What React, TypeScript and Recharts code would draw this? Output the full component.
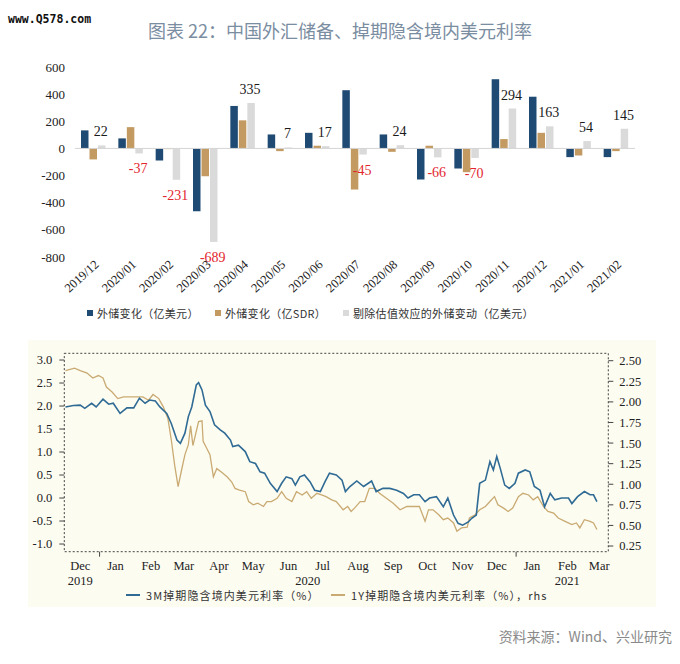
import React from "react";
import {
  BarChart,
  Bar,
  XAxis,
  YAxis,
  Legend,
  ReferenceLine,
  ReferenceArea,
  LabelList,
  LineChart,
  Line,
} from "recharts";

// ---- top chart: monthly reserve changes ----
const months = [
  "2019/12", "2020/01", "2020/02", "2020/03", "2020/04", "2020/05", "2020/06", "2020/07",
  "2020/08", "2020/09", "2020/10", "2020/11", "2020/12", "2021/01", "2021/02",
];
const reserveUsd = [133, 74, -89, -463, 313, 103, 115, 429, 103, -229, -148, 510, 381, -64, -64];
const reserveSdr = [-81, 157, -5, -205, 207, -20, 20, -303, -25, 20, -175, 69, 115, -52, -20];
const reserveExValuation = [22, -37, -231, -689, 335, 7, 17, -45, 24, -66, -70, 294, 163, 54, 145];
const barTicks = [-800, -600, -400, -200, 0, 200, 400, 600];
const barNames = ["外储变化（亿美元）", "外储变化（亿SDR）", "剔除估值效应的外储变动（亿美元）"];

// ---- bottom chart: swap implied onshore USD rates ----
const rate3mDates = [
  "2019-12-02", "2019-12-09", "2019-12-15", "2019-12-19", "2019-12-25", "2019-12-29", "2020-01-04", "2020-01-09",
  "2020-01-13", "2020-01-19", "2020-01-25", "2020-01-31", "2020-02-05", "2020-02-10", "2020-02-14", "2020-02-19",
  "2020-02-23", "2020-02-29", "2020-03-04", "2020-03-09", "2020-03-12", "2020-03-16", "2020-03-19", "2020-03-22",
  "2020-03-26", "2020-03-28", "2020-03-31", "2020-04-03", "2020-04-07", "2020-04-11", "2020-04-16", "2020-04-20",
  "2020-04-25", "2020-04-27", "2020-05-02", "2020-05-08", "2020-05-12", "2020-05-17", "2020-05-21", "2020-05-25",
  "2020-05-30", "2020-06-05", "2020-06-09", "2020-06-13", "2020-06-18", "2020-06-21", "2020-06-25", "2020-06-29",
  "2020-07-04", "2020-07-08", "2020-07-13", "2020-07-17", "2020-07-21", "2020-07-27", "2020-08-01", "2020-08-04",
  "2020-08-08", "2020-08-14", "2020-08-20", "2020-08-27", "2020-08-31", "2020-09-06", "2020-09-12", "2020-09-18",
  "2020-09-24", "2020-09-28", "2020-10-03", "2020-10-08", "2020-10-13", "2020-10-17", "2020-10-23", "2020-10-29",
  "2020-11-02", "2020-11-07", "2020-11-11", "2020-11-15", "2020-11-20", "2020-11-23", "2020-11-27", "2020-11-30",
  "2020-12-05", "2020-12-09", "2020-12-12", "2020-12-15", "2020-12-18", "2020-12-22", "2020-12-26", "2020-12-31",
  "2021-01-03", "2021-01-09", "2021-01-13", "2021-01-17", "2021-01-22", "2021-01-26", "2021-01-31", "2021-02-04",
  "2021-02-10", "2021-02-16", "2021-02-19", "2021-02-24", "2021-03-02", "2021-03-07", "2021-03-10", "2021-03-13",
];
const rate3m = [
  1.98, 2.01, 2.02, 1.95, 2.06, 1.98, 2.15, 2.04,
  2.06, 1.84, 1.96, 1.96, 2.17, 2.06, 2.13, 2.11,
  1.98, 1.84, 1.62, 1.26, 1.19, 1.41, 1.77, 1.98,
  2.46, 2.51, 2.35, 2.02, 1.88, 1.59, 1.48, 1.41,
  1.26, 1.12, 1.15, 1.01, 0.79, 0.75, 0.57, 0.54,
  0.32, 0.14, 0.32, 0.46, 0.42, 0.28, 0.46, 0.5,
  0.35, 0.17, 0.14, 0.35, 0.54, 0.5, 0.39, 0.14,
  0.25, 0.37, 0.25, 0.37, 0.14, 0.21, 0.21, 0.17,
  0.1, 0.0, 0.07, 0.07, -0.08, 0.0, 0.03, -0.19,
  0.0, -0.37, -0.55, -0.59, -0.52, -0.44, -0.37, 0.32,
  0.39, 0.79, 0.61, 0.9, 0.65, 0.28, 0.21, 0.32,
  0.54, 0.61, 0.57, 0.25, 0.17, -0.19, 0.1, -0.04,
  0.0, 0.0, -0.12, 0.03, 0.14, 0.07, 0.07, -0.08,
];
const rate1yDates = [
  "2019-12-02", "2019-12-10", "2019-12-15", "2019-12-21", "2019-12-26", "2019-12-31", "2020-01-04", "2020-01-07",
  "2020-01-12", "2020-01-17", "2020-01-22", "2020-01-28", "2020-02-03", "2020-02-08", "2020-02-13", "2020-02-17",
  "2020-02-22", "2020-02-26", "2020-03-01", "2020-03-04", "2020-03-07", "2020-03-10", "2020-03-13", "2020-03-16",
  "2020-03-19", "2020-03-21", "2020-03-23", "2020-03-28", "2020-03-31", "2020-04-01", "2020-04-04", "2020-04-07",
  "2020-04-10", "2020-04-13", "2020-04-17", "2020-04-22", "2020-04-26", "2020-04-29", "2020-05-03", "2020-05-08",
  "2020-05-11", "2020-05-15", "2020-05-19", "2020-05-24", "2020-05-27", "2020-05-31", "2020-06-05", "2020-06-09",
  "2020-06-13", "2020-06-18", "2020-06-22", "2020-06-27", "2020-07-01", "2020-07-05", "2020-07-10", "2020-07-14",
  "2020-07-18", "2020-07-23", "2020-07-27", "2020-08-02", "2020-08-06", "2020-08-09", "2020-08-12", "2020-08-17",
  "2020-08-21", "2020-08-25", "2020-08-30", "2020-09-03", "2020-09-09", "2020-09-15", "2020-09-21", "2020-09-27",
  "2020-10-03", "2020-10-08", "2020-10-13", "2020-10-16", "2020-10-20", "2020-10-25", "2020-10-29", "2020-11-02",
  "2020-11-07", "2020-11-10", "2020-11-14", "2020-11-19", "2020-11-21", "2020-11-26", "2020-11-30", "2020-12-05",
  "2020-12-09", "2020-12-13", "2020-12-16", "2020-12-21", "2020-12-25", "2020-12-29", "2021-01-03", "2021-01-07",
  "2021-01-12", "2021-01-16", "2021-01-20", "2021-01-25", "2021-01-29", "2021-02-03", "2021-02-07", "2021-02-13",
  "2021-02-19", "2021-02-23", "2021-02-26", "2021-03-02", "2021-03-07", "2021-03-10", "2021-03-13",
];
const rate1y = [
  2.38, 2.41, 2.38, 2.35, 2.29, 2.32, 2.29, 2.18,
  2.12, 2.04, 2.06, 2.06, 2.06, 2.06, 2.02, 2.09,
  2.04, 1.94, 1.8, 1.54, 1.23, 0.97, 1.17, 1.36,
  1.48, 1.71, 1.47, 1.76, 1.77, 1.52, 1.44, 1.36,
  1.09, 1.19, 1.15, 1.09, 1.03, 0.95, 0.93, 0.91,
  0.79, 0.75, 0.77, 0.73, 0.79, 0.79, 0.83, 0.91,
  0.83, 0.79, 0.91, 0.87, 0.91, 0.83, 0.89, 0.87,
  0.85, 0.81, 0.79, 0.69, 0.73, 0.67, 0.71, 0.79,
  0.79, 0.95, 0.95, 0.89, 0.83, 0.77, 0.69, 0.73,
  0.73, 0.73, 0.55, 0.69, 0.69, 0.63, 0.57, 0.59,
  0.53, 0.43, 0.47, 0.48, 0.59, 0.63, 0.69, 0.73,
  0.79, 0.85, 0.75, 0.71, 0.67, 0.71, 0.85, 0.89,
  0.87, 0.81, 0.85, 0.73, 0.67, 0.65, 0.59, 0.55,
  0.51, 0.53, 0.47, 0.57, 0.55, 0.53, 0.45,
];
const rateNames = ["3M掉期隐含境内美元利率（%）", "1Y掉期隐含境内美元利率（%），rhs"];
const leftTicks = [-1, -0.5, 0, 0.5, 1, 1.5, 2, 2.5, 3];
const rightTicks = [0.25, 0.5, 0.75, 1, 1.25, 1.5, 1.75, 2, 2.25, 2.5];
const monthTickDates = [
  "2019-12-15", "2020-01-15", "2020-02-15", "2020-03-15", "2020-04-15", "2020-05-15", "2020-06-15", "2020-07-15",
  "2020-08-15", "2020-09-15", "2020-10-15", "2020-11-15", "2020-12-15", "2021-01-15", "2021-02-15", "2021-03-15",
];
const monthTickLabels = [
  "Dec", "Jan", "Feb", "Mar", "Apr", "May", "Jun", "Jul", "Aug", "Sep", "Oct", "Nov", "Dec", "Jan", "Feb", "Mar",
];
const yearTickDates = ["2019-12-15", "2020-07-02", "2021-02-15"];
const yearTickLabels = ["2019", "2020", "2021"];
const yearStartDates = ["2020-01-01", "2021-01-01"];

const toTs = (d: string) => Date.parse(d + "T00:00:00Z");

const barData = months.map((m, i) => ({
  month: m,
  usd: reserveUsd[i],
  sdr: reserveSdr[i],
  exval: reserveExValuation[i],
}));
const rate3mSeries = rate3mDates.map((d, i) => ({ t: toTs(d), v: rate3m[i] }));
const rate1ySeries = rate1yDates.map((d, i) => ({ t: toTs(d), v: rate1y[i] }));

const xMin = toTs("2019-12-01");
const xMax = toTs("2021-03-23");
const leftDomain: [number, number] = [-1.167, 3.146];
const rightDomain: [number, number] = [0.181, 2.59];

const monthByTs = new Map(monthTickDates.map((d, i) => [toTs(d), monthTickLabels[i]]));
const yearByTs = new Map(yearTickDates.map((d, i) => [toTs(d), yearTickLabels[i]]));
const yearStarts = new Set(yearStartDates.map(toTs));
const dateTicks = Array.from(
  new Set([...monthTickDates, ...yearTickDates, ...yearStartDates].map(toTs))
).sort((a, b) => a - b);

const SERIF = "'Liberation Serif', 'Times New Roman', serif";
const CJK = "'Noto Sans CJK SC', 'Noto Sans', sans-serif";

// keep legend entries in series order (Recharts sorts them by name otherwise)
const inOrder = (payload: any[], names: string[]) =>
  [...payload].sort((a, b) => names.indexOf(a.value) - names.indexOf(b.value));

const renderExValLabel = (props: any) => {
  const { x, y, width, height, value } = props;
  const top = Math.min(y, y + height);
  const bottom = Math.max(y, y + height);
  const neg = value < 0;
  return (
    <text
      x={x + width / 2 - 1}
      y={neg ? bottom + 20 : top - 9}
      textAnchor="middle"
      fontSize={14}
      fontFamily={SERIF}
      fill={neg ? "#e3262e" : "#1a1a1a"}
    >
      {value}
    </text>
  );
};

const BarLegend = (props: any) => {
  const items = inOrder(props.payload || [], barNames);
  return (
    <div style={{ display: "flex", alignItems: "center", height: 16, paddingLeft: 87, fontFamily: CJK, fontSize: 11, color: "#333", whiteSpace: "nowrap" }}>
      {items.map((entry: any, i: number) => (
        <div key={i} style={{ display: "flex", alignItems: "center", width: i < 2 ? 128 : "auto", flexShrink: 0, letterSpacing: 0.3 }}>
          <span style={{ display: "inline-block", width: 6, height: 6, background: entry.color, marginRight: 4 }} />
          <span>{entry.value}</span>
        </div>
      ))}
    </div>
  );
};

const LineLegend = (props: any) => {
  const items = inOrder(props.payload || [], rateNames);
  return (
    <div style={{ display: "flex", alignItems: "center", height: 14, paddingLeft: 126, fontFamily: CJK, fontSize: 11, color: "#333", whiteSpace: "nowrap" }}>
      {items.map((entry: any, i: number) => (
        <div key={i} style={{ display: "flex", alignItems: "center", width: i === 0 ? 205 : "auto", flexShrink: 0, letterSpacing: 1.1 }}>
          <span style={{ display: "inline-block", width: 14, height: 2, background: entry.color, marginRight: 6 }} />
          <span>{entry.value}</span>
        </div>
      ))}
    </div>
  );
};

const DateTick = (props: any) => {
  const { x, y, payload } = props;
  const v = payload.value;
  const month = monthByTs.get(v);
  const year = yearByTs.get(v);
  return (
    <g>
      {yearStarts.has(v) && <line x1={x} x2={x} y1={y} y2={y + 5} stroke="#444" />}
      {month && (
        <text x={x} y={y + 18} textAnchor="middle" fontSize={12.5} fontFamily={SERIF} fill="#222">
          {month}
        </text>
      )}
      {year && (
        <text x={x} y={y + 33.5} textAnchor="middle" fontSize={12.5} fontFamily={SERIF} fill="#222">
          {year}
        </text>
      )}
    </g>
  );
};

export default function App() {
  return (
    <div style={{ position: "absolute", left: 0, top: 0, width: 680, height: 664, background: "#fff", overflow: "hidden" }}>
      <div style={{ position: "absolute", left: 8, top: 12, fontFamily: "'DejaVu Sans Mono', monospace", fontWeight: "bold", fontSize: 11.5, color: "#111" }}>
        www.Q578.com
      </div>
      <div style={{ position: "absolute", left: 0, top: 19, width: 680, textAlign: "center", fontFamily: CJK, fontSize: 18, lineHeight: "22px", color: "#7b8da1" }}>
        图表 22：中国外汇储备、掉期隐含境内美元利率
      </div>

      <div style={{ position: "absolute", left: 0, top: 0 }}>
        <BarChart
          width={680}
          height={330}
          data={barData}
          margin={{ top: 67, right: 45, bottom: 9, left: 0 }}
          barSize={7.5}
          barGap={1}
        >
          <XAxis
            dataKey="month"
            interval={0}
            angle={-42}
            textAnchor="end"
            tickLine={false}
            axisLine={false}
            tickSize={0}
            tickMargin={2}
            height={48}
            tick={{ fontSize: 12.5, fontFamily: SERIF, fill: "#222" }}
          />
          <YAxis
            domain={[-800, 600]}
            ticks={barTicks}
            width={75}
            axisLine={false}
            tickLine={false}
            tickSize={0}
            tickMargin={10}
            tick={{ fontSize: 13, fontFamily: SERIF, fill: "#222" }}
          />
          <ReferenceLine y={0} stroke="#d4d4d4" />
          <Legend verticalAlign="bottom" content={<BarLegend />} />
          <Bar dataKey="usd" name={barNames[0]} fill="#1f4a74" isAnimationActive={false} />
          <Bar dataKey="sdr" name={barNames[1]} fill="#c39b62" isAnimationActive={false} />
          <Bar dataKey="exval" name={barNames[2]} fill="#dadada" isAnimationActive={false}>
            <LabelList dataKey="exval" content={renderExValLabel} />
          </Bar>
        </BarChart>
      </div>

      <div style={{ position: "absolute", left: 28, top: 340, width: 628, height: 267, background: "#fdfcf1" }} />
      <div style={{ position: "absolute", left: 0, top: 340 }}>
        <LineChart width={680} height={267} margin={{ top: 13.3, right: 0, bottom: 5, left: 0 }}>
          <XAxis
            type="number"
            dataKey="t"
            domain={[xMin, xMax]}
            ticks={dateTicks}
            interval={0}
            tick={<DateTick />}
            tickLine={false}
            axisLine={false}
            tickSize={0}
            tickMargin={0}
            height={36.3}
            allowDataOverflow
          />
          <YAxis
            yAxisId="left"
            domain={leftDomain}
            ticks={leftTicks}
            allowDataOverflow
            width={64.3}
            axisLine={false}
            tickLine={{ stroke: "#444" }}
            tickSize={5}
            tickMargin={7}
            tickFormatter={(v: number) => v.toFixed(1)}
            tick={{ fontSize: 12.5, fontFamily: SERIF, fill: "#222" }}
          />
          <YAxis
            yAxisId="right"
            orientation="right"
            domain={rightDomain}
            ticks={rightTicks}
            allowDataOverflow
            width={71.7}
            axisLine={false}
            tickLine={{ stroke: "#444" }}
            tickSize={5}
            tickMargin={6}
            tickFormatter={(v: number) => v.toFixed(2)}
            tick={{ fontSize: 12.5, fontFamily: SERIF, fill: "#222" }}
          />
          <ReferenceArea
            yAxisId="left"
            x1={xMin}
            x2={xMax}
            y1={leftDomain[0]}
            y2={leftDomain[1]}
            fill="none"
            stroke="#444"
            strokeDasharray="2 2"
          />
          <Legend verticalAlign="bottom" content={<LineLegend />} />
          <Line
            yAxisId="right"
            data={rate1ySeries}
            dataKey="v"
            name={rateNames[1]}
            stroke="#c9aa72"
            strokeWidth={1.3}
            dot={false}
            isAnimationActive={false}
          />
          <Line
            yAxisId="left"
            data={rate3mSeries}
            dataKey="v"
            name={rateNames[0]}
            stroke="#2f6b94"
            strokeWidth={1.6}
            dot={false}
            isAnimationActive={false}
          />
        </LineChart>
      </div>

      <div style={{ position: "absolute", right: 8, top: 627, fontFamily: CJK, fontSize: 14, lineHeight: "18px", color: "#8a8a8a" }}>
        资料来源：Wind、兴业研究
      </div>
    </div>
  );
}
